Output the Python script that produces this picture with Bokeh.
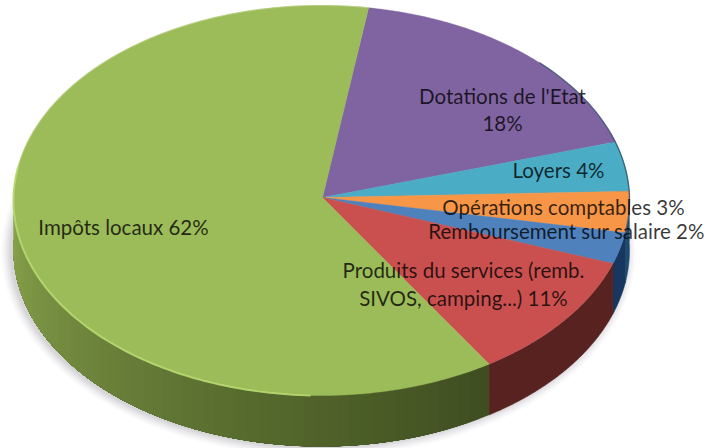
import math
from bokeh.plotting import figure
from bokeh.models import Range1d
from bokeh.core.properties import value
from bokeh.embed import file_html
from bokeh.resources import INLINE

# data (share of the ellipse, clockwise from the first slice)
categories = ["Dotations de l'Etat", "Loyers", "Opérations comptables",
              "Remboursement sur salaire", "Produits du services", "Impôts locaux"]
shares = [17.7, 4.1, 3.4, 2.6, 10.6, 61.6]
label_lines = ["Dotations de l'Etat", "18%", "Loyers 4%", "Opérations comptables 3%",
               "Remboursement sur salaire 2%", "Produits du services (remb.",
               "SIVOS, camping...) 11%", "Impôts locaux 62%"]

# styling / layout
top_colors = ["#8064a2", "#4bacc6", "#f79646", "#4f81bd", "#c9504f", "#9cbb59"]
wall_colors = ["#5c4776", "#2f7f93", "#1f4a70", "#17375e", "#572220", None]
label_x = [502, 502, 558, 563, 566, 463, 463, 123]
label_y = [95.5, 122.5, 169.5, 206, 230, 269, 297, 226]
AX, AY = 322, 197
CX, CY, RX, RY = 321, 200, 308, 195
CY2, RY2 = 250, 196
START = 8.8


def top_pt(t):
    a = math.radians(t)
    return CX + RX * math.sin(a), CY - RY * math.cos(a)


def bot_pt(t):
    a = math.radians(t)
    return CX + RX * math.sin(a), CY2 - RY2 * math.cos(a)


def steps(a, b, n=None):
    n = n or max(2, int(abs(b - a)) * 2)
    return [a + (b - a) * i / n for i in range(n + 1)]


def mix(c1, c2, f):
    v = [round(c1[i] + (c2[i] - c1[i]) * f) for i in range(3)]
    return "#%02x%02x%02x" % tuple(v)


p = figure(width=721, height=448, output_backend="svg", toolbar_location=None,
           x_range=Range1d(0, 721), y_range=Range1d(448, 0), min_border=0, margin=0)
p.axis.visible = False
p.grid.visible = False
p.outline_line_color = None
p.background_fill_color = "white"

# soft shadow under the base
for grow, alpha in [(9, 0.04), (7, 0.06), (5, 0.08), (3, 0.10), (1, 0.12)]:
    ts = steps(0, 360, 180)
    p.patch([CX - 3 + (RX + grow) * math.sin(math.radians(t)) for t in ts],
            [CY2 + 1 - (RY2 + grow) * math.cos(math.radians(t)) for t in ts],
            fill_color="#8a8a96", fill_alpha=alpha, line_color=None)

# slice boundaries
edges = [START]
for s in shares:
    edges.append(edges[-1] + s * 3.6)

# walls
for i, wc in enumerate(wall_colors):
    a, b = edges[i], edges[i + 1]
    if wc is not None:
        a2, b2 = max(a, 70), max(b, 70)
        if b2 > a2:
            ts = steps(a2, b2)
            xs = [top_pt(t)[0] for t in ts] + [bot_pt(t)[0] for t in reversed(ts)]
            ys = [top_pt(t)[1] for t in ts] + [bot_pt(t)[1] for t in reversed(ts)]
            p.patch(xs, ys, fill_color=wc, line_color=wc, line_width=0.5)
    else:
        # gradient wall of the big slice: each band is painted over the rest of the wall
        dark, mid, light = (0x3f, 0x4e, 0x20), (0x5a, 0x6e, 0x30), (0x8c, 0xa8, 0x4e)
        end = min(b, 275)
        for u in steps(a, end, 60)[:-1]:
            f = (u - a) / (end - a)
            col = mix(dark, mid, f / 0.4) if f < 0.4 else mix(mid, light, (f - 0.4) / 0.6)
            ts = steps(u, end, 40)
            xs = [top_pt(t)[0] for t in ts] + [bot_pt(t)[0] for t in reversed(ts)]
            ys = [top_pt(t)[1] for t in ts] + [bot_pt(t)[1] for t in reversed(ts)]
            p.patch(xs, ys, fill_color=col, line_color=None)

# top faces
for i, col in enumerate(top_colors):
    ts = steps(edges[i], edges[i + 1])
    xs = [AX] + [top_pt(t)[0] for t in ts]
    ys = [AY] + [top_pt(t)[1] for t in ts]
    p.patch(xs, ys, fill_color=col, line_color=col, line_width=0.4)

# rim highlight on the big slice, dark rim on the right
ts = steps(182, 280, 90)
p.line([top_pt(t)[0] for t in ts], [top_pt(t)[1] for t in ts],
       line_color="#b7d971", line_width=2, line_alpha=0.9)
ts = steps(280, 368, 90)
p.line([top_pt(t)[0] for t in ts], [top_pt(t)[1] for t in ts],
       line_color="#b7cf7d", line_width=1.2, line_alpha=0.7)
ts = steps(45, 101, 50)
p.line([top_pt(t)[0] for t in ts], [top_pt(t)[1] for t in ts],
       line_color="#2f4f66", line_width=1.4, line_alpha=0.7)

p.text(label_x, label_y, text=label_lines, text_font=value("Lato"), text_font_size="20.5px",
       text_color="#000000", text_alpha=0.78, text_align="center", text_baseline="middle")

open("out.html", "w").write(file_html(p, INLINE))
